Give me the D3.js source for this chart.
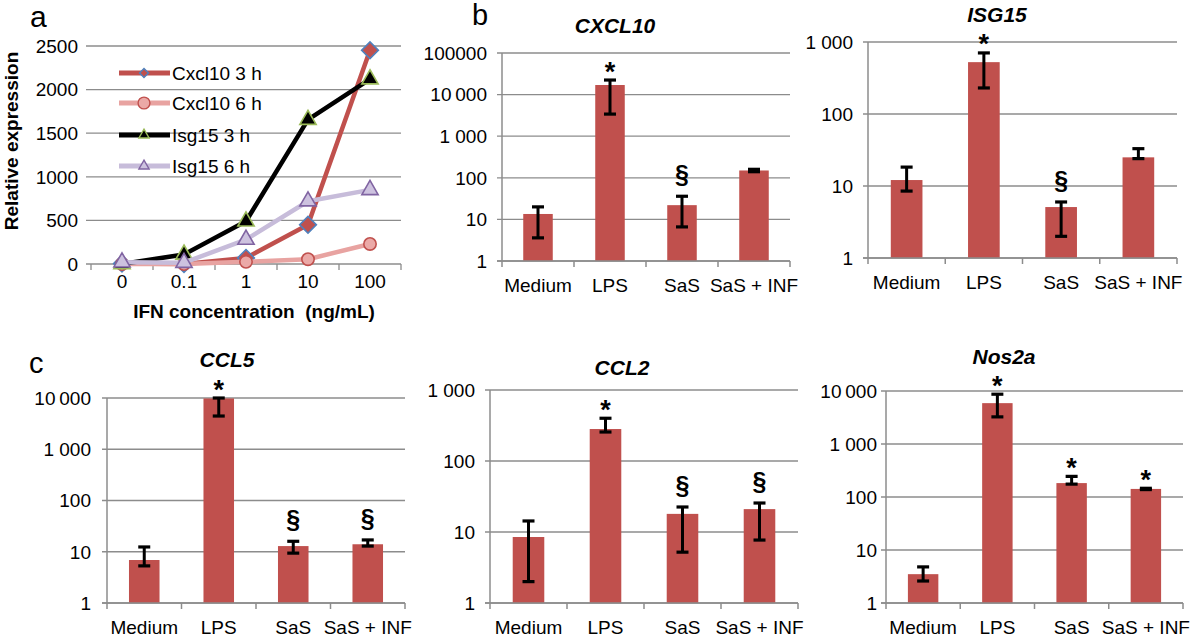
<!DOCTYPE html>
<html><head><meta charset="utf-8">
<script src="https://cdn.jsdelivr.net/npm/d3@7"></script>
<style>body{margin:0;background:#fff}svg{display:block;font-family:"Liberation Sans",Arial,Helvetica,sans-serif}</style>
</head><body><svg id="c" width="1200" height="638"></svg>
<script>
// ---------- Panel a data ----------
const concLabels = ["0", "0.1", "1", "10", "100"];
const aTicks = [0, 500, 1000, 1500, 2000, 2500];
const cxcl10_3h = [5, 0, 70, 450, 2450];
const cxcl10_6h = [0, 0, 25, 55, 230];
const isg15_3h = [0, 110, 490, 1655, 2120];
const isg15_6h = [20, 15, 280, 720, 850];
const seriesNames = ["Cxcl10 3 h", "Cxcl10 6 h", "Isg15 3 h", "Isg15 6 h"];

// ---------- Bar panel data ----------
const groups = ["Medium", "LPS", "SaS", "SaS + INF"];

const cxcl10Means = [13.5, 17000, 22, 150];
const cxcl10Low   = [3.6, 3400, 6.6, 140];
const cxcl10High  = [20, 22400, 36, 160];
const cxcl10Marks = ["", "*", "§", ""];
const cxcl10Ticks = [1, 10, 100, 1000, 10000, 100000];
const cxcl10TickLabels = ["1", "10", "100", "1 000", "10\u2009000", "100000"];

const isg15Means = [12.1, 525, 5.1, 25];
const isg15Low   = [8.5, 230, 2.0, 24];
const isg15High  = [18.3, 705, 6.0, 33];
const isg15Marks = ["", "*", "§", ""];
const isg15Ticks = [1, 10, 100, 1000];
const isg15TickLabels = ["1", "10", "100", "1 000"];

const ccl5Means = [6.9, 9800, 12.9, 14];
const ccl5Low   = [5.3, 4450, 9.4, 12.9];
const ccl5High  = [12.4, 10000, 16, 17];
const ccl5Marks = ["", "*", "§", "§"];
const ccl5Ticks = [1, 10, 100, 1000, 10000];
const ccl5TickLabels = ["1", "10", "100", "1 000", "10\u2009000"];

const ccl2Means = [8.5, 282, 18, 21];
const ccl2Low   = [2.0, 256, 5.2, 7.7];
const ccl2High  = [14.3, 400, 22.5, 25.6];
const ccl2Marks = ["", "*", "§", "§"];
const ccl2Ticks = [1, 10, 100, 1000];
const ccl2TickLabels = ["1", "10", "100", "1 000"];

const nos2aMeans = [3.5, 5900, 183, 142];
const nos2aLow   = [2.6, 3250, 175, 138];
const nos2aHigh  = [4.8, 8700, 245, 146];
const nos2aMarks = ["", "*", "*", "*"];
const nos2aTicks = [1, 10, 100, 1000, 10000];
const nos2aTickLabels = ["1", "10", "100", "1 000", "10\u2009000"];

// ---------- Drawing ----------
const svg = d3.select("#c");
svg.append("rect").attr("width", 1200).attr("height", 638).attr("fill", "#fff");
const GRID = "#8c8c8c";
const BAR = "#c0504d";
const FS = 19;

// Panel labels
svg.append("text").attr("x", 30).attr("y", 27).attr("font-size", 30).text("a");
svg.append("text").attr("x", 472).attr("y", 25).attr("font-size", 29).text("b");
svg.append("text").attr("x", 29).attr("y", 373).attr("font-size", 29).text("c");

// ---- Panel a ----
(function () {
  const g = svg.append("g");
  const x = d3.scaleBand().domain(concLabels).range([91, 401]);
  const bw = x.bandwidth();
  const y = d3.scaleLinear().domain([0, 2500]).range([264, 46]);
  aTicks.forEach(t => {
    g.append("line").attr("x1", 86).attr("x2", 401).attr("y1", y(t)).attr("y2", y(t))
      .attr("stroke", GRID).attr("stroke-width", 1.3);
    g.append("text").attr("x", 78).attr("y", y(t)).attr("dy", "0.36em")
      .attr("text-anchor", "end").attr("font-size", FS).text(t);
  });
  const bounds = concLabels.map(d => x(d)).concat([401]);
  bounds.forEach(b => g.append("line").attr("x1", b).attr("x2", b).attr("y1", 264).attr("y2", 270)
    .attr("stroke", GRID).attr("stroke-width", 1.3));
  concLabels.forEach(d => g.append("text").attr("x", x(d) + bw / 2).attr("y", 288)
    .attr("text-anchor", "middle").attr("font-size", FS).text(d));
  g.append("text").attr("x", 254).attr("y", 318).attr("text-anchor", "middle")
    .attr("font-size", 19).attr("font-weight", "bold").attr("xml:space", "preserve")
    .text("IFN concentration  (ng/mL)");
  g.append("text").attr("transform", "translate(18,141) rotate(-90)").attr("text-anchor", "middle")
    .attr("font-size", 19).attr("font-weight", "bold").text("Relative expression");

  const series = [
    {name: seriesNames[0], v: cxcl10_3h, line: "#c0504d", fill: "#c0504d", stroke: "#4f81bd", sym: "diamond"},
    {name: seriesNames[1], v: cxcl10_6h, line: "#e8a3a1", fill: "#eba9a7", stroke: "#c0504d", sym: "circle"},
    {name: seriesNames[2], v: isg15_3h, line: "#000000", fill: "#000000", stroke: "#9bbb59", sym: "triangle"},
    {name: seriesNames[3], v: isg15_6h, line: "#c7bcda", fill: "#cdc2df", stroke: "#8064a2", sym: "triangle"}
  ];
  const symPath = (s, big) => {
    if (s === "diamond") return d3.symbol(d3.symbolSquare, big ? 140 : 40)();
    if (s === "circle") return d3.symbol(d3.symbolCircle, big ? 120 : 110)();
    return d3.symbol(d3.symbolTriangle, big ? 115 : 45)();
  };
  const line = d3.line().x((d, i) => x(concLabels[i]) + bw / 2).y(d => y(d));
  series.forEach(s => {
    g.append("path").attr("d", line(s.v)).attr("fill", "none").attr("stroke", s.line)
      .attr("stroke-width", 4.5).attr("stroke-linejoin", "round");
    s.v.forEach((d, i) => {
      g.append("path").attr("d", symPath(s.sym, true))
        .attr("transform", `translate(${x(concLabels[i]) + bw / 2},${y(d)})` + (s.sym === "diamond" ? " rotate(45)" : ""))
        .attr("fill", s.fill).attr("stroke", s.stroke).attr("stroke-width", 1.6);
    });
  });
  // legend
  const ly = [73, 103, 135, 166];
  series.forEach((s, i) => {
    g.append("line").attr("x1", 119).attr("x2", 170).attr("y1", ly[i]).attr("y2", ly[i])
      .attr("stroke", s.line).attr("stroke-width", 5);
    g.append("path").attr("d", symPath(s.sym, false))
      .attr("transform", `translate(144,${ly[i]})` + (s.sym === "diamond" ? " rotate(45)" : ""))
      .attr("fill", s.fill).attr("stroke", s.stroke).attr("stroke-width", 1.4);
    g.append("text").attr("x", 172).attr("y", ly[i]).attr("dy", "0.36em")
      .attr("font-size", FS).text(s.name);
  });
})();

// ---- Bar panels ----
function barPanel(cfg) {
  const g = svg.append("g");
  const x = d3.scaleBand().domain(groups).range([cfg.x0, cfg.x1]);
  const bw = x.bandwidth();
  const barW = bw * 0.41;
  const y = d3.scaleLog().domain([cfg.ticks[0], cfg.ticks[cfg.ticks.length - 1]]).range([cfg.yBot, cfg.yTop]);
  cfg.ticks.forEach((t, i) => {
    g.append("line").attr("x1", cfg.x0 - 5).attr("x2", cfg.x1).attr("y1", y(t)).attr("y2", y(t))
      .attr("stroke", GRID).attr("stroke-width", 1.3);
    g.append("text").attr("x", cfg.x0 - cfg.gap).attr("y", y(t)).attr("dy", "0.36em")
      .attr("text-anchor", "end").attr("font-size", FS).text(cfg.tickLabels[i]);
  });
  // bars
  groups.forEach((gr, i) => {
    const cx = x(gr) + bw / 2;
    g.append("rect").attr("x", cx - barW / 2).attr("y", y(cfg.means[i]))
      .attr("width", barW).attr("height", cfg.yBot - y(cfg.means[i])).attr("fill", BAR);
  });
  // axes
  g.append("line").attr("x1", cfg.x0).attr("x2", cfg.x0).attr("y1", cfg.yTop).attr("y2", cfg.yBot)
    .attr("stroke", GRID).attr("stroke-width", 1.5);
  g.append("line").attr("x1", cfg.x0 - 5).attr("x2", cfg.x1).attr("y1", cfg.yBot).attr("y2", cfg.yBot)
    .attr("stroke", GRID).attr("stroke-width", 1.5);
  groups.map(d => x(d)).concat([cfg.x1]).forEach(b =>
    g.append("line").attr("x1", b).attr("x2", b).attr("y1", cfg.yBot).attr("y2", cfg.yBot + 6)
      .attr("stroke", GRID).attr("stroke-width", 1.5));
  groups.forEach(gr => g.append("text").attr("x", x(gr) + bw / 2).attr("y", cfg.yBot + 31)
    .attr("text-anchor", "middle").attr("font-size", FS).text(gr));
  // error bars + marks
  groups.forEach((gr, i) => {
    const cx = x(gr) + bw / 2;
    const yl = y(cfg.low[i]), yh = y(cfg.high[i]);
    g.append("line").attr("x1", cx).attr("x2", cx).attr("y1", yl).attr("y2", yh)
      .attr("stroke", "#000").attr("stroke-width", 3);
    [yl, yh].forEach(yy => g.append("line").attr("x1", cx - 6).attr("x2", cx + 6)
      .attr("y1", yy).attr("y2", yy).attr("stroke", "#000").attr("stroke-width", 3.2));
    const m = cfg.marks[i];
    if (m === "*") {
      g.append("text").attr("x", cx).attr("y", yh - 15 + 15.5).attr("text-anchor", "middle")
        .attr("font-size", 27).attr("font-weight", "bold").text("*");
    } else if (m === "§") {
      g.append("text").attr("x", cx).attr("y", yh - 20 + 7).attr("text-anchor", "middle")
        .attr("font-size", 25).attr("font-weight", "bold").text("§");
    }
  });
  g.append("text").attr("x", cfg.titleX).attr("y", cfg.titleY).attr("text-anchor", "middle")
    .attr("font-size", 21).attr("font-weight", "bold").attr("font-style", "italic").text(cfg.title);
}

barPanel({title: "CXCL10", means: cxcl10Means, low: cxcl10Low, high: cxcl10High, marks: cxcl10Marks,
  ticks: cxcl10Ticks, tickLabels: cxcl10TickLabels, x0: 502, x1: 790, yTop: 53, yBot: 261, gap: 15, titleX: 615, titleY: 33});
barPanel({title: "ISG15", means: isg15Means, low: isg15Low, high: isg15High, marks: isg15Marks,
  ticks: isg15Ticks, tickLabels: isg15TickLabels, x0: 868, x1: 1177, yTop: 42, yBot: 258, gap: 15, titleX: 997, titleY: 22});
barPanel({title: "CCL5", means: ccl5Means, low: ccl5Low, high: ccl5High, marks: ccl5Marks,
  ticks: ccl5Ticks, tickLabels: ccl5TickLabels, x0: 107, x1: 405, yTop: 398, yBot: 603, gap: 16, titleX: 227, titleY: 367});
barPanel({title: "CCL2", means: ccl2Means, low: ccl2Low, high: ccl2High, marks: ccl2Marks,
  ticks: ccl2Ticks, tickLabels: ccl2TickLabels, x0: 490, x1: 798, yTop: 390, yBot: 603, gap: 15, titleX: 622, titleY: 375});
barPanel({title: "Nos2a", means: nos2aMeans, low: nos2aLow, high: nos2aHigh, marks: nos2aMarks,
  ticks: nos2aTicks, tickLabels: nos2aTickLabels, x0: 886, x1: 1183, yTop: 391, yBot: 603, gap: 9, titleX: 1004, titleY: 364});
</script></body></html>
